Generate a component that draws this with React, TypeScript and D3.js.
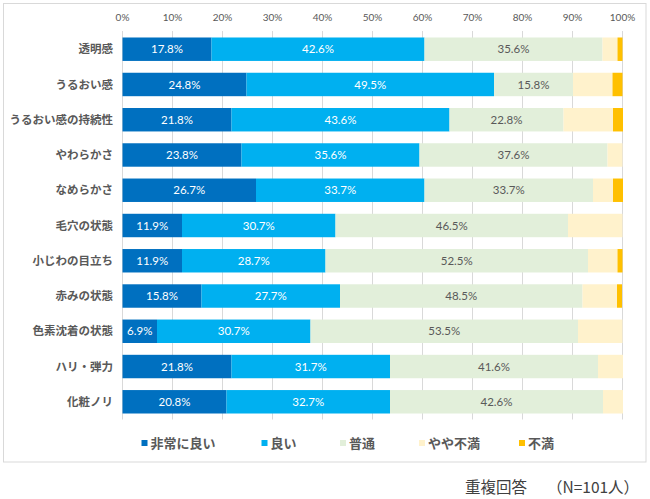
import React from "react";
import * as d3 from "d3";

const categories = ["透明感", "うるおい感", "うるおい感の持続性", "やわらかさ", "なめらかさ", "毛穴の状態", "小じわの目立ち", "赤みの状態", "色素沈着の状態", "ハリ・弾力", "化粧ノリ"];
const seriesNames = ["非常に良い", "良い", "普通", "やや不満", "不満"];
const verygood = [17.8, 24.8, 21.8, 23.8, 26.7, 11.9, 11.9, 15.8, 6.9, 21.8, 20.8];
const good = [42.6, 49.5, 43.6, 35.6, 33.7, 30.7, 28.7, 27.7, 30.7, 31.7, 32.7];
const normal = [35.6, 15.8, 22.8, 37.6, 33.7, 46.5, 52.5, 48.5, 53.5, 41.6, 42.6];
const slightlyBad = [3.0, 7.9, 9.9, 3.0, 4.0, 10.9, 5.9, 6.9, 8.9, 5.0, 4.0];
const bad = [1.0, 2.0, 2.0, 0, 2.0, 0, 1.0, 1.0, 0, 0, 0];
const tickValues = [0, 10, 20, 30, 40, 50, 60, 70, 80, 90, 100];

const colors = ["#0070C0", "#00B0F0", "#E2EFDA", "#FFF2CC", "#FFC000"];
const labelColors = ["#FFFFFF", "#FFFFFF", "#595959", null, null];

const seriesValues = [verygood, good, normal, slightlyBad, bad];

export default function App() {
  const W = 650, H = 499;
  const x = d3.scaleLinear().domain([0, 100]).range([122.5, 622.5]);
  const y = d3.scaleBand<string>().domain(categories).range([31.5, 419.5]).paddingInner(0.335).paddingOuter(0.17);
  const rows = categories.map((c, i) => {
    let acc = 0;
    return seriesValues.map((s, k) => {
      const v = s[i];
      const seg = { k, x0: acc, x1: acc + v, v };
      acc += v;
      return seg;
    });
  });
  const legendX = [141.5, 261.5, 340, 419, 519];
  return (
    <svg width={W} height={H} style={{ position: "absolute", left: 0, top: 0 }}>
      <rect x={0} y={0} width={W} height={H} fill="#fff" />
      <rect x={3.5} y={3.5} width={642.5} height={458.5} fill="#fff" stroke="#D9D9D9" strokeWidth={1} />
      {tickValues.map((t) => (
        <g key={t}>
          <line x1={x(t)} x2={x(t)} y1={31} y2={419.5} stroke="#D9D9D9" strokeWidth={1} />
          <text x={x(t)} y={20.5} textAnchor="middle" fontFamily="Lato, 'Liberation Sans', sans-serif" fontSize={10} fill="#595959">{t}%</text>
        </g>
      ))}
      {categories.map((c, i) => (
        <g key={c}>
          <text x={113} y={(y(c) as number) + y.bandwidth() / 2} dy="0.36em" textAnchor="end" fontFamily="'Noto Sans CJK JP', sans-serif" fontWeight="bold" fontSize={11.5} fill="#595959">{c}</text>
          {rows[i].map((s) => s.v > 0 ? (
            <rect key={s.k} x={x(s.x0)} y={y(c)} width={x(s.x1) - x(s.x0)} height={y.bandwidth()} fill={colors[s.k]} />
          ) : null)}
          {rows[i].map((s) => (labelColors[s.k] && s.v > 0) ? (
            <text key={"t" + s.k} x={(x(s.x0) + x(s.x1)) / 2} y={(y(c) as number) + y.bandwidth() / 2} dy="0.36em" textAnchor="middle" fontFamily="Lato, 'Liberation Sans', sans-serif" fontSize={11.5} fill={labelColors[s.k] as string}>{s.v.toFixed(1)}%</text>
          ) : null)}
        </g>
      ))}
      {seriesNames.map((n, k) => (
        <g key={n}>
          <rect x={legendX[k]} y={440} width={6} height={6} fill={colors[k]} />
          <text x={legendX[k] + 9} y={443} dy="0.36em" fontFamily="'Noto Sans CJK JP', sans-serif" fontWeight="bold" fontSize={13} fill="#595959">{n}</text>
        </g>
      ))}
      <text x={465} y={487} dy="0.36em" fontFamily="'Noto Sans CJK JP', sans-serif" fontSize={15.5} fill="#404040">重複回答</text>
      <text x={547} y={487} dy="0.36em" fontFamily="'Noto Sans CJK JP', sans-serif" fontSize={15.5} fill="#404040">（N=101人）</text>
    </svg>
  );
}
